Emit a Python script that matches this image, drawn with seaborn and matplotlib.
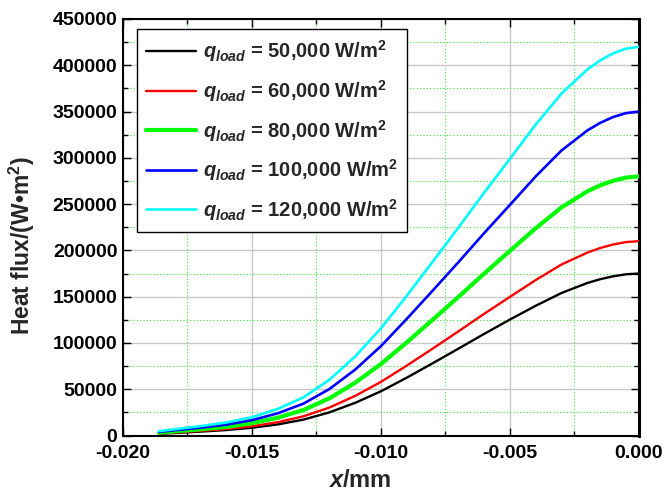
import numpy as np
import pandas as pd
import matplotlib
matplotlib.use("Agg")
import matplotlib.pyplot as plt
from matplotlib.ticker import MultipleLocator, FormatStrFormatter
import seaborn as sns

# ---- data ----
x_mm = [-0.0186, -0.018, -0.017, -0.016, -0.015, -0.014, -0.013, -0.012, -0.011, -0.010,
        -0.009, -0.008, -0.007, -0.006, -0.005, -0.004, -0.003, -0.002, -0.0015, -0.001,
        -0.0005, 0.0]
q50 = [1800, 2700, 4200, 5900, 8400, 12000, 17200, 25000, 35300, 47800,
       62500, 78000, 93800, 109800, 125300, 140200, 154000, 164800, 168900, 172000,
       174200, 175000]
q60 = [2300, 3400, 5000, 7000, 10000, 14400, 20800, 30200, 42800, 58000,
       75500, 93800, 112500, 131500, 149800, 168000, 184800, 197600, 202600, 206400,
       209000, 210000]
q80 = [3100, 4500, 6700, 9300, 13300, 19200, 27600, 40200, 57000, 77300,
       100600, 125000, 149700, 175000, 199500, 224000, 246500, 263800, 270300, 275200,
       278700, 280000]
q100 = [3900, 5700, 8400, 11700, 16600, 24000, 34500, 50200, 71200, 96600,
        126000, 156400, 187200, 218700, 249200, 280000, 308000, 329600, 337800, 344100,
        348300, 350000]
q120 = [4700, 6800, 10100, 14000, 19800, 28700, 41300, 60200, 85400, 115800,
        151000, 187600, 224600, 262400, 299000, 336000, 369500, 395500, 405300, 412900,
        417900, 420000]
labels = [r"$q_{load}$ = 50,000 W/m$^{2}$", r"$q_{load}$ = 60,000 W/m$^{2}$",
          r"$q_{load}$ = 80,000 W/m$^{2}$", r"$q_{load}$ = 100,000 W/m$^{2}$",
          r"$q_{load}$ = 120,000 W/m$^{2}$"]
series = [q50, q60, q80, q100, q120]
colors = ["#000000", "#ff0000", "#00ff00", "#0000ff", "#00ffff"]
widths = [1.7, 1.7, 3.0, 1.9, 1.9]

sns.set_theme(style="white")
plt.rcParams["font.family"] = ["Liberation Sans", "DejaVu Sans"]
plt.rcParams["font.weight"] = "bold"
plt.rcParams["mathtext.fontset"] = "custom"
plt.rcParams["mathtext.rm"] = "Liberation Sans:bold"
plt.rcParams["mathtext.it"] = "Liberation Sans:bold:italic"
plt.rcParams["mathtext.bf"] = "Liberation Sans:bold"

rows = []
for lab, vals in zip(labels, series):
    for xv, yv in zip(x_mm, vals):
        rows.append({"x": xv, "flux": yv, "series": lab})
df = pd.DataFrame(rows)

fig = plt.figure(figsize=(6.64, 4.93), dpi=100)
ax = fig.add_axes([0.1852, 0.1166, 0.7771, 0.8449])

for lab, c, w in zip(labels, colors, widths):
    sub = df[df["series"] == lab]
    sns.lineplot(data=sub, x="x", y="flux", ax=ax, color=c, linewidth=w,
                 label=lab, zorder=3)

ax.set_xlim(-0.020, 0.0)
ax.set_ylim(0, 450000)
ax.xaxis.set_major_locator(MultipleLocator(0.005))
ax.xaxis.set_minor_locator(MultipleLocator(0.0025))
ax.yaxis.set_major_locator(MultipleLocator(50000))
ax.yaxis.set_minor_locator(MultipleLocator(25000))
ax.xaxis.set_major_formatter(FormatStrFormatter("%.3f"))
ax.yaxis.set_major_formatter(FormatStrFormatter("%d"))

ax.grid(True, which="major", color="#c8c8c8", linewidth=1.0, linestyle="-")
ax.grid(True, which="minor", color="#33ee33", linewidth=0.8, linestyle=(0, (1, 2)))
ax.set_axisbelow(True)

ax.tick_params(which="both", direction="in", top=True, right=True,
               bottom=True, left=True, colors="black")
ax.tick_params(which="major", length=6, width=1.0, labelsize=14)
ax.tick_params(axis="y", which="major", pad=4)
ax.tick_params(axis="x", which="major", pad=7)
ax.tick_params(which="minor", length=3.5, width=1.0)
for lbl in ax.get_xticklabels() + ax.get_yticklabels():
    lbl.set_fontweight("bold")

for s in ["left", "bottom", "top"]:
    ax.spines[s].set_color("black")
    ax.spines[s].set_linewidth(1.5)
ax.spines["right"].set_color("black")
ax.spines["right"].set_linewidth(2.2)

ax.set_xlabel(r"$x$/mm", fontsize=17, fontweight="bold")
ax.set_ylabel(r"Heat flux/(W•m$^{2}$)", fontsize=16.5, fontweight="bold")
ax.xaxis.set_label_coords(0.459, -0.08)
ax.yaxis.set_label_coords(-0.167, 0.455)

leg = ax.legend(loc="upper left", bbox_to_anchor=(0.027, 0.975),
                frameon=True, fancybox=False, shadow=False, handlelength=2.5,
                handletextpad=0.35, labelspacing=0.68, borderpad=0.45,
                borderaxespad=0.0, prop={"weight": "bold", "size": 14.5})
leg.get_frame().set_edgecolor("black")
leg.get_frame().set_linewidth(1.0)
leg.get_frame().set_facecolor("white")
leg.get_frame().set_alpha(1.0)
leg.set_zorder(5)

fig.savefig("out.png", dpi=100)
